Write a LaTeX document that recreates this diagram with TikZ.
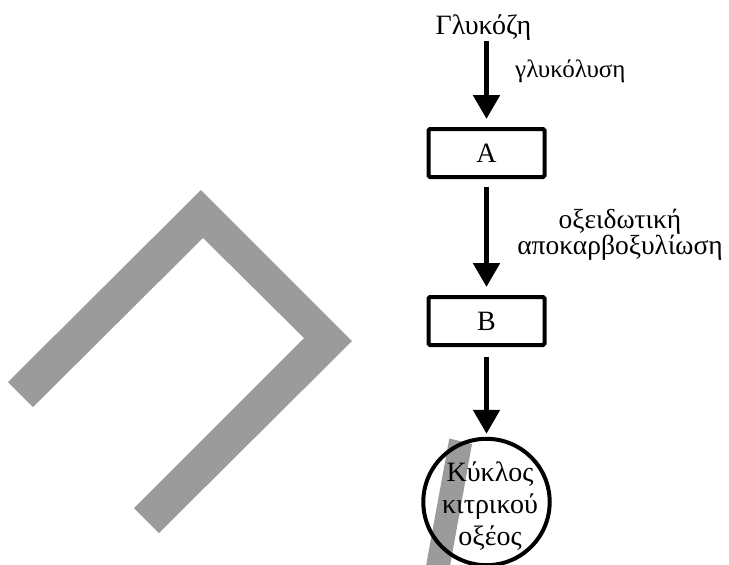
\documentclass[tikz,border=0pt]{standalone}
\usepackage{fontspec}
\setmainfont{Liberation Serif}
\usetikzlibrary{arrows.meta}
\definecolor{bandgray}{RGB}{155,155,155}
\begin{document}
\begin{tikzpicture}[x=1pt,y=-1pt,
  lbl/.style={inner sep=0pt, font=\fontsize{27.5}{27.5}\selectfont},
  ctext/.style={inner sep=0pt, font=\fontsize{28}{28}\selectfont},
  stage/.style={draw, line width=4pt, minimum width=116pt, minimum height=48pt, inner sep=0pt, rounded corners=1.5pt, font=\fontsize{28}{28}\selectfont},
  flow/.style={line width=5.3pt, -{Triangle[length=24pt,width=26pt]}},
]
\useasboundingbox (0,0) rectangle (729,565);
% grey bands
\fill[bandgray] (8,382) -- (201,190) -- (352,341) -- (159,533) -- (134,508) -- (304,338) -- (203,238) -- (33,407) -- cycle;
\fill[bandgray] (449.3,438.5) -- (472,444) -- (450,566) -- (426,566) -- cycle;
% nodes
\node[lbl, anchor=base, font=\fontsize{28}{28}\selectfont] (glu) at (483.5,34) {Γλυκόζη};
\coordinate (g0) at (486.5,41);
\node[stage] (A) at (486.5,153) {A};
\node[stage] (B) at (486.5,321) {B};
\node[draw, circle, line width=4pt, minimum size=126.4pt, inner sep=0pt] (C) at (486.5,502) {};
\node[ctext, anchor=base] (c1) at (490,481.7) {Κύκλος};
\node[ctext, anchor=base] (c2) at (490,513) {κιτρικού};
\node[ctext, anchor=base] (c3) at (490,545) {οξέος};
% labels
\node[lbl, anchor=base west, font=\fontsize{25}{25}\selectfont] (gly) at (515,77) {γλυκόλυση};
\node[lbl, anchor=base] (ox1) at (620,228.3) {οξειδωτική};
\node[lbl, anchor=base] (ox2) at (620,254.3) {αποκαρβοξυλίωση};
% arrows
\draw[flow] (g0) -- ([yshift=8pt]A.north);
\draw[flow] ([yshift=-8pt]A.south) -- ([yshift=8pt]B.north);
\draw[flow] ([yshift=-10pt]B.south) -- ([yshift=3pt]C.north);
\end{tikzpicture}
\end{document}
